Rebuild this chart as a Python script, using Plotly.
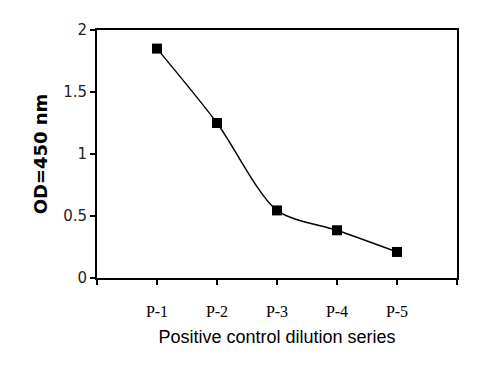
import plotly.graph_objects as go

categories = ["P-1", "P-2", "P-3", "P-4", "P-5"]
positions = [1, 2, 3, 4, 5]
od_values = [1.85, 1.25, 0.545, 0.385, 0.21]
y_ticks = [0, 0.5, 1, 1.5, 2]
y_tick_labels = ["0", "0.5", "1", "1.5", "2"]

fig = go.Figure()
fig.add_trace(go.Scatter(
    x=positions, y=od_values, mode="lines+markers",
    line=dict(color="black", width=1.4, shape="spline", smoothing=0.8),
    marker=dict(symbol="square", size=10, color="black"),
    showlegend=False,
))

fig.update_layout(
    width=485, height=357,
    margin=dict(l=89, r=36, t=22, b=87),
    paper_bgcolor="white", plot_bgcolor="white",
    xaxis=dict(
        range=[0, 6], tickvals=[0, 1, 2, 3, 4, 5, 6],
        ticktext=[""] + categories + [""],
        ticks="outside", ticklen=5, tickwidth=2, tickcolor="black",
        showline=True, linewidth=2, linecolor="black", mirror=True,
        showgrid=False, zeroline=False, automargin=False,
        tickfont=dict(family="Liberation Serif, Times New Roman, serif", size=16, color="black"),
        ticklabelstandoff=13,
        title=dict(text="Positive control dilution series",
                   font=dict(family="Liberation Sans, Arial, sans-serif", size=18, color="black"),
                   standoff=11),
    ),
    yaxis=dict(
        range=[0, 2], tickvals=y_ticks, ticktext=y_tick_labels,
        ticks="outside", ticklen=5, tickwidth=2, tickcolor="black",
        showline=True, linewidth=2, linecolor="black", mirror=True,
        showgrid=False, zeroline=False, automargin=False,
        tickfont=dict(family="DejaVu Sans, Verdana, sans-serif", size=15, color="#222"),
        title=dict(text="<b>OD=450 nm</b>",
                   font=dict(family="DejaVu Sans, Verdana, sans-serif", size=18, color="black"),
                   standoff=11),
    ),
)

fig.write_html("out.html")
